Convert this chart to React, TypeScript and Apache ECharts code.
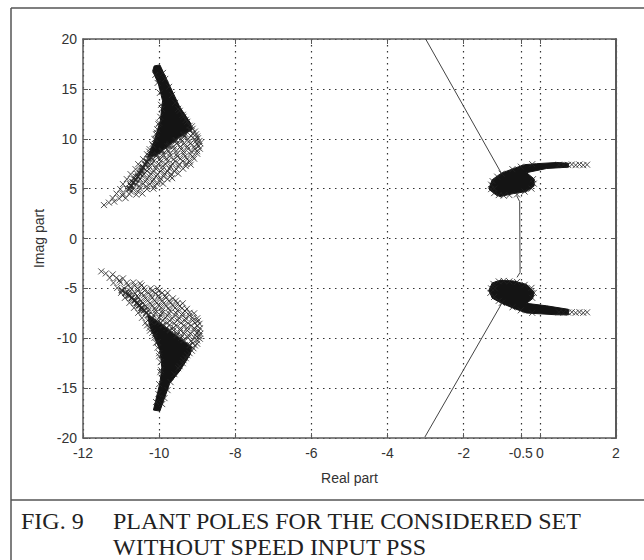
import React, { useEffect, useRef } from "react";
import * as echarts from "echarts";

type Pt = [number, number];

const xTicks = [-12, -10, -8, -6, -4, -2, -0.5, 0, 2];
const yTicks = [-20, -15, -10, -5, 0, 5, 10, 15, 20];
const xName = "Real part";
const yName = "Imag part";
const captionFig = "FIG. 9";
const captionLine1 = "PLANT POLES FOR THE CONSIDERED SET";
const captionLine2 = "WITHOUT SPEED INPUT PSS";

// branch lines joining the clusters
const upperBranch: Pt[] = [[-3.0, 20], [-1.02, 6.6]];
const lowerBranch: Pt[] = [[-3.02, -19.9], [-1.0, -6.5]];
const middleBranch: Pt[] = [[-0.61, 4.3], [-0.53, 3.7], [-0.52, -3.4], [-0.6, -3.9]];

// solid (fully overplotted) parts of each cluster
const leftUpperCore: Pt[] = [[-10.13, 17.3], [-9.98, 17.4], [-9.72, 15.3], [-9.46, 13.2], [-9.18, 11.6], [-9.14, 10.9], [-9.5, 10.1], [-9.82, 9.1], [-10.1, 8.3], [-10.3, 8.2], [-10.12, 9.9], [-9.97, 11.8], [-9.91, 13.8], [-10.02, 15.5], [-10.17, 16.8]];
const leftLowerCore: Pt[] = [[-10.15, -17.2], [-9.98, -17.3], [-9.72, -14.5], [-9.46, -13.3], [-9.18, -11.6], [-9.15, -10.9], [-9.5, -9.9], [-9.85, -8.9], [-10.18, -7.9], [-10.3, -7.8], [-10.24, -8.87], [-9.98, -11.2], [-9.93, -12.9], [-9.98, -14.5]];
const rightUpperCore: Pt[] = [[-1.34, 4.97], [-1.25, 5.9], [-1.01, 6.55], [-0.7, 7.0], [-0.4, 7.4], [-0.09, 7.5], [0.44, 7.62], [0.75, 7.55], [0.75, 7.15], [0.18, 7.02], [-0.35, 6.6], [-0.15, 5.97], [-0.15, 5.3], [-0.35, 4.7], [-0.7, 4.5], [-1.05, 4.2], [-1.2, 4.5]];
const rightLowerCore: Pt[] = [[-1.34, -5.2], [-1.25, -4.45], [-1.05, -4.2], [-0.7, -4.25], [-0.35, -4.6], [-0.15, -5.37], [-0.19, -6.03], [-0.35, -6.5], [0.18, -6.75], [0.75, -7.1], [0.75, -7.65], [0.44, -7.65], [-0.35, -7.47], [-0.7, -6.98], [-1.01, -6.48], [-1.25, -5.98]];

// individually visible poles
const leftUpperPoles: Pt[] = [
  [-11.45, 3.35], [-11.32, 3.6], [-11.18, 3.7], [-11.22, 4.05], [-11.05, 4.0], [-10.88, 4.05],
  [-11.12, 4.5], [-10.95, 4.5], [-10.78, 4.45], [-10.6, 4.4], [-10.44, 4.5],
  [-11.02, 4.95], [-10.85, 5.0], [-10.68, 4.95], [-10.5, 5.0], [-10.32, 4.95], [-10.15, 5.0],
  [-10.95, 5.45], [-10.78, 5.5], [-10.6, 5.45], [-10.42, 5.5], [-10.24, 5.45], [-10.06, 5.5], [-9.9, 5.5],
  [-10.85, 5.95], [-10.68, 6.0], [-10.5, 5.95], [-10.32, 6.0], [-10.14, 5.95], [-9.96, 6.0], [-9.78, 5.95], [-9.66, 6.05],
  [-10.75, 6.45], [-10.58, 6.5], [-10.4, 6.45], [-10.22, 6.5], [-10.04, 6.45], [-9.86, 6.5], [-9.68, 6.45], [-9.5, 6.5],
  [-10.62, 6.95], [-10.45, 7.0], [-10.27, 6.95], [-10.09, 7.0], [-9.91, 6.95], [-9.73, 7.0], [-9.55, 6.95], [-9.37, 7.0],
  [-10.55, 7.45], [-10.37, 7.5], [-10.19, 7.45], [-10.01, 7.5], [-9.83, 7.45], [-9.65, 7.5], [-9.47, 7.45], [-9.29, 7.5], [-9.17, 7.4],
  [-10.42, 7.95], [-10.24, 8.0], [-9.98, 7.95], [-9.8, 8.0], [-9.62, 7.95], [-9.44, 8.0], [-9.26, 7.95], [-9.08, 8.0],
  [-10.32, 8.45], [-9.9, 8.45], [-9.72, 8.5], [-9.54, 8.45], [-9.36, 8.5], [-9.18, 8.45], [-9.0, 8.5],
  [-10.25, 8.95], [-9.78, 8.95], [-9.6, 9.0], [-9.42, 8.95], [-9.24, 9.0], [-9.06, 8.95], [-8.93, 9.0],
  [-10.18, 9.45], [-9.72, 9.45], [-9.54, 9.5], [-9.36, 9.45], [-9.18, 9.5], [-9.0, 9.45], [-8.92, 9.55],
  [-10.12, 9.95], [-9.42, 9.95], [-9.24, 10.0], [-9.06, 9.95], [-8.98, 10.05],
  [-10.08, 10.45], [-9.3, 10.45], [-9.12, 10.5], [-9.03, 10.45],
  [-10.05, 10.95], [-9.12, 11.0], [-9.2, 11.3], [-10.02, 11.45], [-9.3, 11.9], [-9.38, 12.4], [-9.97, 12.2], [-9.93, 13.0], [-9.5, 13.0],
];
const leftUpperDense: Pt[] = [
  [-10.96, 4.3], [-10.74, 4.7], [-10.56, 4.72], [-10.72, 5.25], [-10.52, 5.26], [-10.34, 5.22], [-10.12, 5.26],
  [-10.72, 5.72], [-10.54, 5.76], [-10.36, 5.7], [-10.18, 5.72], [-9.98, 5.72],
  [-10.62, 6.22], [-10.44, 6.26], [-10.26, 6.22], [-10.08, 6.24], [-9.88, 6.22], [-9.7, 6.24],
  [-10.5, 6.72], [-10.32, 6.76], [-10.14, 6.72], [-9.96, 6.74], [-9.78, 6.72], [-9.6, 6.72],
  [-10.44, 7.22], [-10.26, 7.26], [-10.08, 7.22], [-9.9, 7.24], [-9.7, 7.22], [-9.5, 7.22], [-9.3, 7.26],
  [-10.32, 7.72], [-10.14, 7.76], [-9.96, 7.72], [-9.78, 7.74], [-9.58, 7.72], [-9.38, 7.74], [-9.2, 7.72],
  [-10.26, 8.22], [-10.08, 8.26], [-9.9, 8.22], [-9.72, 8.24], [-9.52, 8.22], [-9.32, 8.24], [-9.12, 8.22],
  [-9.94, 8.72], [-9.76, 8.76], [-9.56, 8.72], [-9.36, 8.74], [-9.16, 8.72], [-9.0, 8.76],
  [-9.78, 9.24], [-9.62, 9.26], [-9.44, 9.22], [-9.26, 9.24], [-9.08, 9.22], [-8.96, 9.26],
  [-9.58, 9.72], [-9.4, 9.76], [-9.22, 9.72], [-9.04, 9.74], [-8.94, 9.78],
  [-9.34, 10.22], [-9.16, 10.26], [-9.0, 10.22], [-9.06, 10.72], [-9.14, 11.25], [-9.26, 11.7], [-9.36, 12.2], [-9.46, 12.8], [-9.58, 13.6], [-9.66, 14.4], [-9.74, 15.2],
  [-9.84, 16.0], [-9.9, 16.6], [-10.1, 16.4], [-10.04, 15.6], [-9.98, 14.6], [-9.95, 13.4], [-10.0, 11.6], [-10.06, 10.6], [-10.1, 10.0], [-10.16, 9.3], [-10.26, 8.7],
];
const leftUpperEdge: Pt[] = [
  [-10.78, 5.0], [-10.74, 5.3], [-10.68, 5.6], [-10.62, 5.9], [-10.56, 6.2], [-10.5, 6.5], [-10.46, 6.8], [-10.42, 7.1], [-10.36, 7.4], [-10.32, 7.7], [-10.28, 8.0],
  [-10.2, 8.1], [-10.06, 8.4], [-9.92, 8.8], [-9.74, 9.3], [-9.56, 9.85], [-9.36, 10.4], [-9.2, 10.9],
];
const leftLowerPoles: Pt[] = [
  [-11.52, -3.3], [-11.4, -3.5], [-11.22, -3.6], [-11.3, -3.95], [-11.12, -3.95], [-10.95, -4.0],
  [-11.2, -4.45], [-11.02, -4.4], [-10.85, -4.45], [-10.68, -4.4], [-10.5, -4.5],
  [-11.1, -4.95], [-10.92, -5.0], [-10.75, -4.95], [-10.57, -5.0], [-10.4, -4.95], [-10.22, -5.0], [-10.04, -5.0],
  [-11.0, -5.45], [-10.82, -5.5], [-10.64, -5.45], [-10.46, -5.5], [-10.28, -5.45], [-10.1, -5.5], [-9.92, -5.45], [-9.78, -5.45],
  [-10.9, -5.95], [-10.72, -6.0], [-10.54, -5.95], [-10.36, -6.0], [-10.18, -5.95], [-10.0, -6.0], [-9.82, -5.95], [-9.64, -6.0],
  [-10.78, -6.45], [-10.6, -6.5], [-10.42, -6.45], [-10.24, -6.5], [-10.06, -6.45], [-9.88, -6.5], [-9.7, -6.45], [-9.52, -6.5], [-9.38, -6.5],
  [-10.66, -6.95], [-10.48, -7.0], [-10.3, -6.95], [-10.12, -7.0], [-9.94, -6.95], [-9.76, -7.0], [-9.58, -6.95], [-9.4, -7.0], [-9.27, -7.05],
  [-10.55, -7.45], [-10.1, -7.45], [-9.92, -7.45], [-9.74, -7.5], [-9.56, -7.45], [-9.38, -7.5], [-9.2, -7.45], [-9.08, -7.5],
  [-10.45, -7.95], [-10.0, -7.95], [-9.84, -7.95], [-9.66, -8.0], [-9.48, -7.95], [-9.3, -8.0], [-9.12, -7.95], [-9.0, -8.0],
  [-10.36, -8.45], [-9.96, -8.45], [-9.78, -8.45], [-9.6, -8.5], [-9.42, -8.45], [-9.24, -8.5], [-9.06, -8.45], [-8.94, -8.55],
  [-10.25, -8.95], [-9.8, -8.95], [-9.62, -8.95], [-9.44, -9.0], [-9.26, -8.95], [-9.08, -9.0], [-8.93, -9.0],
  [-10.18, -9.45], [-9.54, -9.45], [-9.36, -9.45], [-9.18, -9.5], [-9.0, -9.45], [-8.92, -9.55],
  [-10.12, -9.95], [-9.42, -9.95], [-9.24, -9.95], [-9.06, -10.0], [-8.93, -10.05],
  [-10.08, -10.45], [-9.12, -10.5], [-9.0, -10.55], [-10.04, -10.95], [-9.1, -11.0], [-9.2, -11.5], [-10.0, -11.5], [-9.3, -12.0], [-9.38, -12.5], [-9.96, -12.4], [-9.5, -13.0], [-9.95, -13.2],
];
const leftLowerDense: Pt[] = [
  [-11.04, -4.2], [-10.82, -4.7], [-10.64, -4.72], [-10.46, -4.7], [-10.76, -5.25], [-10.56, -5.26], [-10.38, -5.22], [-10.18, -5.26], [-10.0, -5.24],
  [-10.76, -5.72], [-10.58, -5.76], [-10.4, -5.7], [-10.22, -5.72], [-10.02, -5.72], [-9.84, -5.74],
  [-10.66, -6.22], [-10.48, -6.26], [-10.3, -6.22], [-10.12, -6.24], [-9.92, -6.22], [-9.74, -6.24], [-9.56, -6.24],
  [-10.54, -6.72], [-10.36, -6.76], [-10.18, -6.72], [-10.0, -6.74], [-9.82, -6.72], [-9.64, -6.72], [-9.46, -6.76],
  [-10.46, -7.22], [-10.28, -7.26], [-10.1, -7.22], [-9.92, -7.24], [-9.72, -7.22], [-9.52, -7.22], [-9.32, -7.26],
  [-10.14, -7.72], [-9.96, -7.72], [-9.78, -7.74], [-9.58, -7.72], [-9.38, -7.74], [-9.2, -7.72],
  [-9.9, -8.22], [-9.72, -8.24], [-9.52, -8.22], [-9.32, -8.24], [-9.12, -8.22], [-8.98, -8.26],
  [-10.32, -8.72], [-9.74, -8.72], [-9.56, -8.72], [-9.36, -8.74], [-9.16, -8.72], [-9.0, -8.76],
  [-10.24, -9.24], [-9.62, -9.22], [-9.44, -9.22], [-9.26, -9.24], [-9.08, -9.22], [-8.96, -9.26],
  [-9.4, -9.76], [-9.22, -9.72], [-9.04, -9.74], [-8.94, -9.78],
  [-9.16, -10.26], [-9.0, -10.22], [-9.06, -10.72], [-9.14, -11.25], [-9.26, -11.7], [-9.36, -12.2], [-9.46, -12.8], [-9.6, -13.6], [-9.7, -14.4], [-9.78, -15.2],
  [-9.86, -16.0], [-9.92, -16.6], [-10.08, -16.4], [-10.02, -15.6], [-10.0, -14.6], [-9.97, -13.4], [-10.0, -11.8], [-10.04, -10.4], [-10.12, -9.7], [-10.2, -8.4], [-10.3, -8.2],
];
const leftLowerEdge: Pt[] = [
  [-10.98, -5.2], [-10.88, -5.45], [-10.8, -5.7], [-10.72, -5.95], [-10.64, -6.2], [-10.58, -6.45], [-10.52, -6.7], [-10.46, -6.95], [-10.4, -7.2], [-10.34, -7.45], [-10.28, -7.65],
  [-10.18, -8.0], [-10.04, -8.35], [-9.9, -8.7], [-9.72, -9.2], [-9.54, -9.7], [-9.36, -10.2], [-9.2, -10.7],
];
const rightUpperPoles: Pt[] = [
  [1.24, 7.4], [1.14, 7.35], [1.04, 7.42], [0.94, 7.35], [0.84, 7.42], [0.74, 7.38], [0.62, 7.36], [0.5, 7.4],
  [-1.28, 4.95], [-1.2, 4.55], [-1.28, 5.4], [-1.2, 5.0], [-1.08, 4.35], [-0.95, 4.3], [-1.24, 5.75], [-1.12, 6.2],
  [-0.8, 4.35], [-0.6, 4.42], [-0.4, 4.7], [-0.22, 5.0], [-0.16, 5.5], [-0.18, 5.95], [-1.0, 6.5], [-0.72, 6.95], [-0.5, 7.2], [-0.2, 7.45],
];
const rightLowerPoles: Pt[] = [
  [1.24, -7.4], [1.14, -7.45], [1.04, -7.38], [0.94, -7.45], [0.84, -7.38], [0.74, -7.42], [0.62, -7.44], [0.5, -7.4],
  [-1.28, -5.0], [-1.22, -4.55], [-1.3, -5.45], [-1.18, -5.0], [-1.08, -4.3], [-0.95, -4.25], [-1.2, -5.85], [-1.08, -6.25],
  [-0.8, -4.3], [-0.6, -4.35], [-0.4, -4.65], [-0.22, -4.95], [-0.16, -5.45], [-0.2, -5.95], [-1.0, -6.45], [-0.72, -6.9], [-0.5, -7.2], [-0.2, -7.45],
];

const CROSS = "path://M0 0L10 10M10 0L0 10";
const DARK = "#141414";
const AXIS = "#5a5a5a";
const SANS = "'Liberation Sans', Arial, sans-serif";
const SERIF = "'Liberation Serif', serif";

function fillSeries(points: Pt[]) {
  return {
    type: "custom",
    silent: true,
    data: points,
    renderItem: (params: any, api: any) => {
      if (params.dataIndex !== 0) return null;
      return {
        type: "polygon",
        shape: { points: points.map((p) => api.coord(p)) },
        style: { fill: DARK, stroke: DARK, lineWidth: 1 },
      };
    },
  };
}
function poleSeries(points: Pt[], width = 1) {
  return {
    type: "scatter",
    data: points,
    symbol: CROSS,
    symbolSize: 6,
    silent: true,
    itemStyle: { color: "none", borderColor: "#222", borderWidth: width },
  };
}
function lineSeries(points: Pt[]) {
  return {
    type: "line",
    data: points,
    symbol: "none",
    silent: true,
    lineStyle: { color: "#444", width: 1 },
  };
}

export default function App() {
  const ref = useRef<HTMLDivElement>(null);
  useEffect(() => {
    const chart = echarts.init(ref.current!, undefined, { renderer: "svg" });
    const splitLine = { show: true, lineStyle: { color: "#333", type: [1.5, 4.5] as any, width: 1.2 } };
    const frame = { stroke: "#555", lineWidth: 1.5 };
    const caption = { font: `24px ${SERIF}`, fill: "#222" };
    chart.setOption({
      animation: false,
      backgroundColor: "#fff",
      grid: { left: 83, top: 39, right: 28, bottom: 122, containLabel: false },
      xAxis: [
        {
          type: "value", min: -12, max: 2, name: xName, nameLocation: "middle", nameGap: 33,
          nameTextStyle: { fontFamily: SANS, fontSize: 14, color: "#333" },
          axisLine: { show: true, onZero: false, lineStyle: { color: AXIS, width: 1.5 } },
          axisTick: { show: true, inside: true, length: 5, customValues: xTicks, lineStyle: { color: AXIS } },
          axisLabel: { customValues: xTicks, margin: 8, fontFamily: SANS, fontSize: 14, color: "#333", formatter: (v: number) => String(v) },
          splitLine,
        },
        {
          type: "value", min: -12, max: 2, position: "top",
          axisLine: { show: true, onZero: false, lineStyle: { color: AXIS, width: 1.5 } },
          axisTick: { show: true, inside: true, length: 5, customValues: xTicks, lineStyle: { color: AXIS } },
          axisLabel: { show: false }, splitLine: { show: false },
        },
      ],
      yAxis: [
        {
          type: "value", min: -20, max: 20, interval: 5, name: yName, nameLocation: "middle", nameGap: 32,
          nameTextStyle: { fontFamily: SANS, fontSize: 14, color: "#333" },
          axisLine: { show: true, onZero: false, lineStyle: { color: AXIS, width: 1.5 } },
          axisTick: { show: true, inside: true, length: 5, lineStyle: { color: AXIS } },
          axisLabel: { margin: 6, fontFamily: SANS, fontSize: 14, color: "#333", customValues: yTicks },
          splitLine,
        },
        {
          type: "value", min: -20, max: 20, interval: 5, position: "right",
          axisLine: { show: true, onZero: false, lineStyle: { color: AXIS, width: 2 } },
          axisTick: { show: true, inside: true, length: 5, lineStyle: { color: AXIS } },
          axisLabel: { show: false }, splitLine: { show: false },
        },
      ],
      series: [
        lineSeries(upperBranch),
        lineSeries(lowerBranch),
        lineSeries(middleBranch),
        poleSeries(leftUpperPoles),
        poleSeries(leftUpperDense),
        poleSeries(leftLowerPoles),
        poleSeries(leftLowerDense),
        poleSeries(rightUpperPoles),
        poleSeries(rightLowerPoles),
        fillSeries(leftUpperCore),
        fillSeries(leftLowerCore),
        fillSeries(rightUpperCore),
        fillSeries(rightLowerCore),
        poleSeries(leftUpperEdge, 1.6),
        poleSeries(leftLowerEdge, 1.6),
      ],
      graphic: [
        { type: "line", shape: { x1: 11, y1: 8, x2: 644, y2: 8 }, style: frame },
        { type: "line", shape: { x1: 11, y1: 8, x2: 11, y2: 560 }, style: frame },
        { type: "line", shape: { x1: 11, y1: 500, x2: 644, y2: 500 }, style: frame },
        { type: "text", x: 21, y: 509, style: { text: captionFig, ...caption } },
        { type: "text", x: 113, y: 509, style: { text: captionLine1, ...caption } },
        { type: "text", x: 113, y: 535, style: { text: captionLine2, ...caption } },
      ],
    });
    return () => chart.dispose();
  }, []);
  return <div ref={ref} style={{ position: "absolute", left: 0, top: 0, width: 644, height: 560 }} />;
}
